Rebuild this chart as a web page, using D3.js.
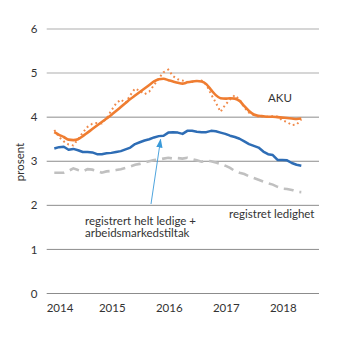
<!DOCTYPE html>
<html><head><meta charset="utf-8">
<script src="https://cdn.jsdelivr.net/npm/d3@7"></script>
<style>
html,body{margin:0;padding:0;background:#fff;}
svg{display:block;font-family:"Lato","Open Sans",sans-serif;}
</style></head>
<body><svg id="c" width="345" height="341"></svg>
<script>
// Monthly observations, January 2014 - May 2018
const startYear = 2014;
const nMonths = 53;
const yearLabels = ["2014", "2015", "2016", "2017", "2018"];
const yTicks = [0, 1, 2, 3, 4, 5, 6];

const akuTrend = [3.66,3.60,3.55,3.49,3.48,3.50,3.57,3.65,3.73,3.81,3.89,3.97,
  4.05,4.14,4.23,4.32,4.41,4.49,4.57,4.65,4.73,4.81,4.86,4.87,
  4.84,4.81,4.78,4.76,4.79,4.81,4.82,4.81,4.75,4.62,4.50,4.43,
  4.42,4.43,4.42,4.37,4.25,4.14,4.06,4.03,4.02,4.01,4.01,4.00,
  3.99,3.98,3.97,3.96,3.97];
const akuRaw = [3.71,3.55,3.45,3.38,3.36,3.50,3.65,3.78,3.85,3.87,3.86,3.97,
  4.15,4.31,4.40,4.32,4.50,4.65,4.60,4.52,4.58,4.73,4.88,5.02,
  5.08,4.93,4.86,4.83,4.80,4.80,4.82,4.83,4.74,4.52,4.33,4.12,
  4.28,4.40,4.50,4.40,4.22,4.10,4.05,4.01,4.02,4.01,4.02,4.01,
  3.93,3.89,3.82,3.83,3.95];
const regTiltak = [3.29,3.32,3.33,3.26,3.28,3.25,3.21,3.21,3.20,3.16,3.16,3.18,
  3.19,3.21,3.23,3.27,3.31,3.39,3.43,3.47,3.50,3.54,3.57,3.58,
  3.65,3.66,3.65,3.62,3.69,3.69,3.67,3.66,3.66,3.69,3.68,3.65,
  3.62,3.58,3.55,3.51,3.45,3.39,3.35,3.31,3.22,3.16,3.14,3.03,
  3.03,3.02,2.96,2.92,2.90];
const regLedighet = [2.74,2.74,2.74,2.78,2.84,2.80,2.77,2.82,2.81,2.78,2.74,2.77,
  2.78,2.80,2.82,2.85,2.88,2.92,2.94,2.97,3.00,3.03,3.04,3.06,
  3.08,3.06,3.07,3.06,3.08,3.05,3.02,2.99,3.01,3.00,2.97,2.94,
  2.90,2.85,2.78,2.74,2.71,2.66,2.62,2.58,2.54,2.50,2.47,2.42,
  2.38,2.37,2.35,2.31,2.30];

const svg = d3.select("#c");
const x = d3.scaleLinear().domain([0, nMonths - 1]).range([54.3, 301.3]);
const y = d3.scaleLinear().domain([0, 6]).range([293.5, 29]);
const gridX0 = 46.7, gridX1 = 319;
const fs = 11.5;

// gridlines
svg.append("g").selectAll("line").data(yTicks).join("line")
  .attr("x1", gridX0).attr("x2", gridX1)
  .attr("y1", d => y(d)).attr("y2", d => y(d))
  .attr("stroke", d => d >= 5 ? "#c8c8c8" : "#8c8c8c")
  .attr("stroke-width", d => d >= 5 ? 1.5 : 1);

// y labels
svg.append("g").selectAll("text").data(yTicks).join("text")
  .attr("x", 37.5).attr("y", d => y(d)).attr("dy", "0.36em")
  .attr("text-anchor", "end").attr("font-size", fs).attr("fill", "#333")
  .text(d => d);

// x labels
svg.append("g").selectAll("text").data(yearLabels).join("text")
  .attr("x", (d, i) => x(i * 12) + (i === 0 ? 5.7 : 1))
  .attr("y", 312).attr("text-anchor", "middle")
  .attr("font-size", fs).attr("fill", "#333")
  .text(d => d);

// y axis title
svg.append("text").attr("transform", "translate(24,162) rotate(-90)")
  .attr("text-anchor", "middle").attr("font-size", fs).attr("fill", "#333")
  .text("prosent");

const line = d3.line().x((d, i) => x(i)).y(d => y(d));
const smooth = d3.line().x((d, i) => x(i)).y(d => y(d)).curve(d3.curveMonotoneX);

svg.append("path").attr("d", line(regLedighet)).attr("fill", "none")
  .attr("stroke", "#c0c0c0").attr("stroke-width", 2.6)
  .attr("stroke-dasharray", "10,6");
svg.append("path").attr("d", line(regTiltak)).attr("fill", "none")
  .attr("stroke", "#2e6db5").attr("stroke-width", 2.5).attr("stroke-linejoin", "round");
svg.append("path").attr("d", line(akuRaw)).attr("fill", "none")
  .attr("stroke", "#f08a4b").attr("stroke-width", 2)
  .attr("stroke-dasharray", "1.8,3");
svg.append("path").attr("d", smooth(akuTrend)).attr("fill", "none")
  .attr("stroke", "#ef7d31").attr("stroke-width", 2.6).attr("stroke-linejoin", "round");

// arrow
const defs = svg.append("defs");
defs.append("marker").attr("id", "ah").attr("viewBox", "0 0 10 10")
  .attr("refX", 9).attr("refY", 5).attr("markerWidth", 9).attr("markerHeight", 9)
  .attr("markerUnits", "userSpaceOnUse").attr("orient", "auto")
  .append("path").attr("d", "M0,1.5 L10,5 L0,8.5 Z").attr("fill", "#3a9ad9");
svg.append("line").attr("x1", 151).attr("y1", 204).attr("x2", 160.6).attr("y2", 139.5)
  .attr("stroke", "#3a9ad9").attr("stroke-width", 0.9).attr("marker-end", "url(#ah)");

// labels
const lab = (t, xx, yy, anchor) => svg.append("text").attr("x", xx).attr("y", yy)
  .attr("font-size", fs).attr("fill", "#333").attr("text-anchor", anchor || "start").text(t);
lab("AKU", 268, 101.7);
lab("registret ledighet", 314.5, 217.8, "end");
lab("registrert helt ledige +", 85, 225);
lab("arbeidsmarkedstiltak", 85, 236.7);
</script>
</body></html>
